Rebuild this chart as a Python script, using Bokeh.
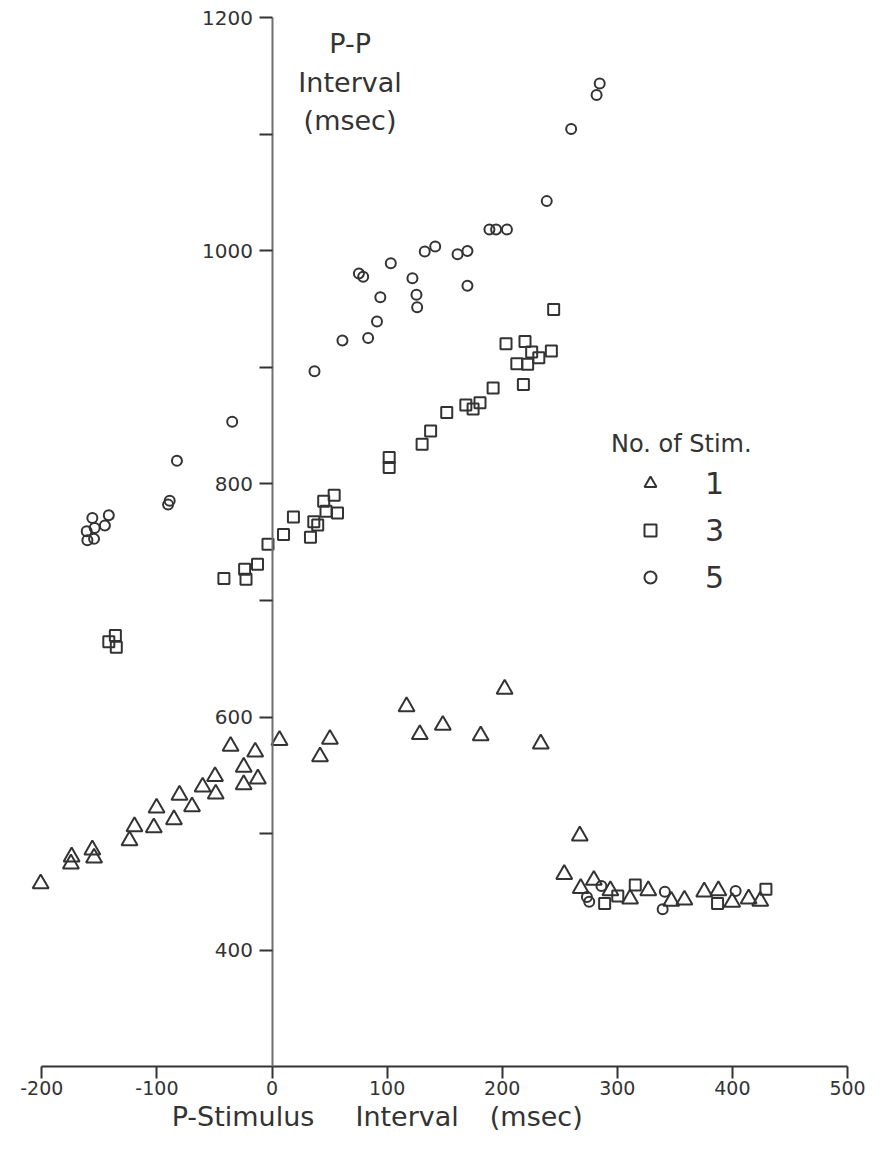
from bokeh.plotting import figure
from bokeh.models import Range1d, FixedTicker, Legend, LegendItem, Label, LinearAxis
from bokeh.embed import file_html
from bokeh.resources import INLINE

FONT = "DejaVu Sans"
INK = "#333333"

# ---- data ----
stim1_x = [-201, -174.7, -174.1, -156.1, -154.6, -123.8, -119.5, -102.7, -100.3, -85.2,
           -80.4, -69.5, -60.3, -49.5, -48.9, -36, -24.6, -24.6, -14.6, -12.3,
           6.5, 41.7, 50.3, 116.9, 128.4, 148.4, 181.3, 202.1, 233.5,
           267.4, 253.9, 268.2, 279.6, 294, 311.1, 326.9, 346.9, 358.3, 375.5,
           387.8, 399.8, 414.1, 424.2]
stim1_y = [457, 474, 480, 486, 479, 494, 506, 505, 522, 512,
           533, 523, 540, 549, 534, 575, 557, 542, 570, 547,
           580, 566, 581, 609, 585, 593, 584, 624, 577,
           498, 465, 453, 460, 451, 444, 451, 442, 443, 450,
           451, 441, 444, 442]

stim3_x = [-141.8, -136.1, -135.3, -41.8, -23.8, -22.6, -12.6, -3.5, 10, 18.6,
           33.4, 36.3, 39.7, 44.9, 46.9, 54, 56.9, 101.8, 101.8, 130.4,
           137.8, 151.8, 168.4, 174.7, 180.7, 192.1, 203.3, 212.7, 218.4, 219.8,
           222.1, 225.6, 231.8, 242.7, 244.7, 289, 300.4, 315.6, 387.1, 429.1]
stim3_y = [664.7, 669.9, 659.9, 718.8, 726.8, 718.2, 731.1, 748.2, 756.7, 771.7,
           754.4, 767.5, 764.9, 785.1, 776.6, 790.3, 775.2, 822.7, 814.2, 834.1,
           845.5, 861.4, 867.7, 864.3, 869.7, 882.5, 920.3, 903.3, 885.3, 922.3,
           902.7, 913.2, 908.4, 914.1, 949.7, 439.9, 446.4, 455.8, 439.9, 452.1]

stim5_x = [-161, -160.4, -156.1, -154.6, -154.1, -145.2, -141.8, -90.3, -88.9, -82.6,
           -34.6, 36.9, 61.2, 75.5, 79.2, 83.5, 91.2, 94.1, 103.2, 122,
           125.5, 126.1, 132.7, 141.8, 161.2, 169.8, 169.8, 188.9, 194.7, 204.1,
           238.7, 259.9, 282, 284.7, 273.6, 275.6, 286.2, 341.3, 339.4, 402.8]
stim5_y = [759.5, 751.8, 770.9, 752.9, 762.3, 764.4, 773.2, 782.3, 785.7, 819.9,
           853.5, 896.8, 923.2, 980.7, 977.9, 925.4, 939.4, 960.2, 989.5, 976.7,
           962.5, 951.7, 999.5, 1003.8, 997.2, 1000, 970.2, 1018.5, 1018.5, 1018.5,
           1042.8, 1104.8, 1133.8, 1143.8, 445.5, 441.5, 454.9, 450.1, 435, 450.6]

x_ticks = [-200, -100, 0, 100, 200, 300, 400, 500]
y_ticks = [400, 500, 600, 700, 800, 900, 1000, 1100, 1200]
y_tick_labels = {400: "400", 500: "", 600: "600", 700: "", 800: "800",
                 900: "", 1000: "1000", 1100: "", 1200: "1200"}
x_tick_labels = {-200: "-200", -100: "-100", 0: "0", 100: "100", 200: "200",
                 300: "300", 400: "400", 500: "500"}
legend_labels = ["1", "3", "5"]

p = figure(width=866, height=1135, output_backend="svg", toolbar_location=None,
           x_range=Range1d(-235.9, 516.5), y_range=Range1d(240.8, 1215.0),
           x_axis_location=None, y_axis_location=None,
           min_border_left=0, min_border_right=0, min_border_top=0,
           min_border_bottom=0)
p.outline_line_color = None
p.grid.grid_line_color = None
p.background_fill_color = "white"

xaxis = LinearAxis(fixed_location=300, bounds=(-200, 500),
                   ticker=FixedTicker(ticks=x_ticks),
                   major_label_overrides=x_tick_labels)
xaxis.axis_line_color = INK
xaxis.axis_line_width = 2
xaxis.major_tick_line_color = INK
xaxis.major_tick_line_width = 2
xaxis.major_tick_out = 12
xaxis.major_tick_in = 0
xaxis.minor_tick_line_color = None
xaxis.major_label_standoff = 2
xaxis.major_label_text_font = FONT
xaxis.major_label_text_font_size = "19px"
xaxis.major_label_text_color = INK
p.add_layout(xaxis, "below")

yaxis = LinearAxis(fixed_location=0, bounds=(300, 1200),
                   ticker=FixedTicker(ticks=y_ticks),
                   major_label_overrides=y_tick_labels)
yaxis.axis_line_color = "#707070"
yaxis.axis_line_width = 2
yaxis.major_tick_line_color = INK
yaxis.major_tick_line_width = 2
yaxis.major_tick_out = 13
yaxis.major_tick_in = 0
yaxis.minor_tick_line_color = None
yaxis.major_label_standoff = 6
yaxis.major_label_text_font = FONT
yaxis.major_label_text_font_size = "20px"
yaxis.major_label_text_color = INK
p.add_layout(yaxis, "left")

r1 = p.scatter(stim1_x, stim1_y, marker="triangle", size=16, line_color=INK,
               line_width=2, fill_color=None)
r3 = p.scatter(stim3_x, stim3_y, marker="square", size=11, line_color=INK,
               line_width=2, fill_color=None)
r5 = p.scatter(stim5_x, stim5_y, marker="circle", size=10, line_color=INK,
               line_width=2, fill_color=None)

legend = Legend(items=[LegendItem(label=legend_labels[0], renderers=[r1]),
                       LegendItem(label=legend_labels[1], renderers=[r3]),
                       LegendItem(label=legend_labels[2], renderers=[r5])],
                location=(611, 538), title="No. of Stim.",
                title_text_font=FONT, title_text_font_size="24px",
                title_text_color=INK, title_text_font_style="normal",
                label_text_font=FONT, label_text_font_size="30px",
                label_text_color=INK, glyph_width=78, glyph_height=30,
                label_height=40, spacing=7, label_standoff=16, padding=0,
                margin=0, border_line_color=None, background_fill_alpha=0,
                title_standoff=5)
p.add_layout(legend)

for txt, yv in [("P-P", 1178.1), ("Interval", 1144.6), ("(msec)", 1112.0)]:
    p.add_layout(Label(x=67.8, y=yv, text=txt, text_align="center",
                       text_baseline="alphabetic", text_font=FONT,
                       text_font_size="27px", text_color=INK))

for txt, xv in [("P-Stimulus", -25.2), ("Interval", 117.4), ("(msec)", 229.6)]:
    p.add_layout(Label(x=xv, y=243.5, text=txt, text_align="center",
                       text_baseline="bottom", text_font=FONT,
                       text_font_size="27px", text_color=INK))

open("out.html", "w").write(file_html(p, INLINE))
